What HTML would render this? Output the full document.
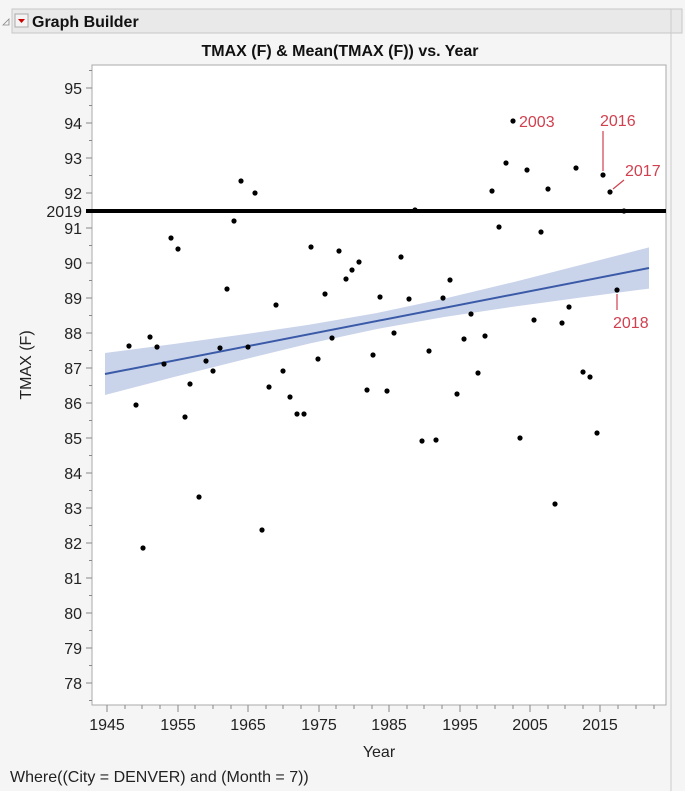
<!DOCTYPE html>
<html><head><meta charset="utf-8"><style>
body{margin:0;width:685px;height:791px;background:#f5f5f5;font-family:"Liberation Sans",sans-serif;overflow:hidden}
</style></head><body>
<svg width="685" height="791" xmlns="http://www.w3.org/2000/svg" style="position:absolute;left:0;top:0">
<rect x="0" y="0" width="685" height="791" fill="#f5f5f5"/>
<rect x="12" y="9" width="670" height="24" fill="#e9e9e9" stroke="#c8c8c8"/>
<path d="M3 25 L9 19 L9 25 Z" fill="none" stroke="#888" stroke-width="0.8"/>
<rect x="15" y="14" width="13" height="13" fill="#f4f4f4" stroke="#aaa"/>
<path d="M18 19 L25 19 L21.5 23 Z" fill="#c00"/>
<text x="32" y="27" font-size="16" font-weight="bold" fill="#111">Graph Builder</text>
<text x="340" y="56" font-size="16" font-weight="bold" text-anchor="middle" fill="#111">TMAX (F) &amp; Mean(TMAX (F)) vs. Year</text>
<rect x="92" y="65" width="574" height="640" fill="#fff" stroke="#aaa"/>
<line x1="671" y1="9" x2="671" y2="791" stroke="#ccc"/>
<!-- y ticks -->
<g stroke="#888">
<line x1="86" y1="88" x2="92" y2="88"/><line x1="86" y1="123" x2="92" y2="123"/><line x1="86" y1="158" x2="92" y2="158"/><line x1="86" y1="193" x2="92" y2="193"/><line x1="86" y1="228" x2="92" y2="228"/><line x1="86" y1="263" x2="92" y2="263"/><line x1="86" y1="298" x2="92" y2="298"/><line x1="86" y1="333" x2="92" y2="333"/><line x1="86" y1="368" x2="92" y2="368"/><line x1="86" y1="403" x2="92" y2="403"/><line x1="86" y1="438" x2="92" y2="438"/><line x1="86" y1="473" x2="92" y2="473"/><line x1="86" y1="508" x2="92" y2="508"/><line x1="86" y1="543" x2="92" y2="543"/><line x1="86" y1="578" x2="92" y2="578"/><line x1="86" y1="613" x2="92" y2="613"/><line x1="86" y1="648" x2="92" y2="648"/><line x1="86" y1="683" x2="92" y2="683"/>
<line x1="89" y1="70.5" x2="92" y2="70.5"/><line x1="89" y1="105.5" x2="92" y2="105.5"/><line x1="89" y1="140.5" x2="92" y2="140.5"/><line x1="89" y1="175.5" x2="92" y2="175.5"/><line x1="89" y1="245.5" x2="92" y2="245.5"/><line x1="89" y1="280.5" x2="92" y2="280.5"/><line x1="89" y1="315.5" x2="92" y2="315.5"/><line x1="89" y1="350.5" x2="92" y2="350.5"/><line x1="89" y1="385.5" x2="92" y2="385.5"/><line x1="89" y1="420.5" x2="92" y2="420.5"/><line x1="89" y1="455.5" x2="92" y2="455.5"/><line x1="89" y1="490.5" x2="92" y2="490.5"/><line x1="89" y1="525.5" x2="92" y2="525.5"/><line x1="89" y1="560.5" x2="92" y2="560.5"/><line x1="89" y1="595.5" x2="92" y2="595.5"/><line x1="89" y1="630.5" x2="92" y2="630.5"/><line x1="89" y1="665.5" x2="92" y2="665.5"/><line x1="89" y1="700.5" x2="92" y2="700.5"/>
</g>
<g font-size="16" fill="#222" text-anchor="end">
<text x="82" y="94">95</text><text x="82" y="129">94</text><text x="82" y="164">93</text><text x="82" y="199">92</text><text x="82" y="234">91</text><text x="82" y="269">90</text><text x="82" y="304">89</text><text x="82" y="339">88</text><text x="82" y="374">87</text><text x="82" y="409">86</text><text x="82" y="444">85</text><text x="82" y="479">84</text><text x="82" y="514">83</text><text x="82" y="549">82</text><text x="82" y="584">81</text><text x="82" y="619">80</text><text x="82" y="654">79</text><text x="82" y="689">78</text>
<text x="82" y="217">2019</text>
</g>
<text transform="translate(31,365) rotate(-90)" font-size="16" fill="#222" text-anchor="middle">TMAX (F)</text>
<!-- x ticks -->
<g stroke="#888">
<line x1="107" y1="705" x2="107" y2="712"/><line x1="178" y1="705" x2="178" y2="712"/><line x1="248" y1="705" x2="248" y2="712"/><line x1="319" y1="705" x2="319" y2="712"/><line x1="389" y1="705" x2="389" y2="712"/><line x1="460" y1="705" x2="460" y2="712"/><line x1="530" y1="705" x2="530" y2="712"/><line x1="600" y1="705" x2="600" y2="712"/>
<line x1="125" y1="705" x2="125" y2="709"/><line x1="142" y1="705" x2="142" y2="709"/><line x1="160" y1="705" x2="160" y2="709"/><line x1="195" y1="705" x2="195" y2="709"/><line x1="213" y1="705" x2="213" y2="709"/><line x1="231" y1="705" x2="231" y2="709"/><line x1="266" y1="705" x2="266" y2="709"/><line x1="283" y1="705" x2="283" y2="709"/><line x1="301" y1="705" x2="301" y2="709"/><line x1="336" y1="705" x2="336" y2="709"/><line x1="354" y1="705" x2="354" y2="709"/><line x1="372" y1="705" x2="372" y2="709"/><line x1="407" y1="705" x2="407" y2="709"/><line x1="424" y1="705" x2="424" y2="709"/><line x1="442" y1="705" x2="442" y2="709"/><line x1="477" y1="705" x2="477" y2="709"/><line x1="495" y1="705" x2="495" y2="709"/><line x1="513" y1="705" x2="513" y2="709"/><line x1="548" y1="705" x2="548" y2="709"/><line x1="565" y1="705" x2="565" y2="709"/><line x1="583" y1="705" x2="583" y2="709"/><line x1="618" y1="705" x2="618" y2="709"/><line x1="636" y1="705" x2="636" y2="709"/><line x1="654" y1="705" x2="654" y2="709"/>
</g>
<g font-size="16" fill="#222" text-anchor="middle">
<text x="107" y="730">1945</text><text x="178" y="730">1955</text><text x="248" y="730">1965</text><text x="319" y="730">1975</text><text x="389" y="730">1985</text><text x="460" y="730">1995</text><text x="530" y="730">2005</text><text x="600" y="730">2015</text>
<text x="379" y="757">Year</text>
</g>
<text x="10" y="782" font-size="16" fill="#222">Where((City = DENVER) and (Month = 7))</text>
<!-- band -->
<polygon fill="#c9d3ea" points="105,353 173,344.1 241,334.8 309,324.8 377,313 445,298.5 513,282.2 581,264.9 649,247.4 649,288.6 581,297.5 513,306.8 445,316.9 377,329 309,343.6 241,360.2 173,377.3 105,395"/>
<line x1="105" y1="374" x2="649" y2="268" stroke="#3a5aa8" stroke-width="2"/>
<line x1="86" y1="211" x2="666" y2="211" stroke="#000" stroke-width="4"/>
<g fill="#000">
<circle cx="129" cy="346" r="2.6"/><circle cx="136" cy="405" r="2.6"/><circle cx="143" cy="548" r="2.6"/><circle cx="150" cy="337" r="2.6"/><circle cx="157" cy="347" r="2.6"/><circle cx="164" cy="364" r="2.6"/><circle cx="171" cy="238" r="2.6"/><circle cx="178" cy="249" r="2.6"/><circle cx="185" cy="417" r="2.6"/><circle cx="190" cy="384" r="2.6"/><circle cx="199" cy="497" r="2.6"/><circle cx="206" cy="361" r="2.6"/><circle cx="213" cy="371" r="2.6"/><circle cx="220" cy="348" r="2.6"/><circle cx="227" cy="289" r="2.6"/><circle cx="234" cy="221" r="2.6"/><circle cx="241" cy="181" r="2.6"/><circle cx="248" cy="347" r="2.6"/><circle cx="255" cy="193" r="2.6"/><circle cx="262" cy="530" r="2.6"/><circle cx="269" cy="387" r="2.6"/><circle cx="276" cy="305" r="2.6"/><circle cx="283" cy="371" r="2.6"/><circle cx="290" cy="397" r="2.6"/><circle cx="297" cy="414" r="2.6"/><circle cx="304" cy="414" r="2.6"/><circle cx="311" cy="247" r="2.6"/><circle cx="318" cy="359" r="2.6"/><circle cx="325" cy="294" r="2.6"/><circle cx="332" cy="338" r="2.6"/><circle cx="339" cy="251" r="2.6"/><circle cx="346" cy="279" r="2.6"/><circle cx="352" cy="270" r="2.6"/><circle cx="359" cy="262" r="2.6"/><circle cx="367" cy="390" r="2.6"/><circle cx="373" cy="355" r="2.6"/><circle cx="380" cy="297" r="2.6"/><circle cx="387" cy="391" r="2.6"/><circle cx="394" cy="333" r="2.6"/><circle cx="401" cy="257" r="2.6"/><circle cx="409" cy="299" r="2.6"/><circle cx="415" cy="210" r="2.6"/><circle cx="422" cy="441" r="2.6"/><circle cx="429" cy="351" r="2.6"/><circle cx="436" cy="440" r="2.6"/><circle cx="443" cy="298" r="2.6"/><circle cx="450" cy="280" r="2.6"/><circle cx="457" cy="394" r="2.6"/><circle cx="464" cy="339" r="2.6"/><circle cx="471" cy="314" r="2.6"/><circle cx="478" cy="373" r="2.6"/><circle cx="485" cy="336" r="2.6"/><circle cx="492" cy="191" r="2.6"/><circle cx="499" cy="227" r="2.6"/><circle cx="506" cy="163" r="2.6"/><circle cx="513" cy="121" r="2.6"/><circle cx="520" cy="438" r="2.6"/><circle cx="527" cy="170" r="2.6"/><circle cx="534" cy="320" r="2.6"/><circle cx="541" cy="232" r="2.6"/><circle cx="548" cy="189" r="2.6"/><circle cx="555" cy="504" r="2.6"/><circle cx="562" cy="323" r="2.6"/><circle cx="569" cy="307" r="2.6"/><circle cx="576" cy="168" r="2.6"/><circle cx="583" cy="372" r="2.6"/><circle cx="590" cy="377" r="2.6"/><circle cx="597" cy="433" r="2.6"/><circle cx="603" cy="175" r="2.6"/><circle cx="610" cy="192" r="2.6"/><circle cx="617" cy="290" r="2.6"/><circle cx="624" cy="211" r="2.6"/>
</g>
<g fill="#d0404f" font-size="16" stroke="none">
<text x="519" y="127">2003</text><text x="600" y="126">2016</text><text x="625" y="176">2017</text><text x="613" y="328">2018</text>
</g>
<g stroke="#d0404f" stroke-width="1.2">
<line x1="603" y1="131" x2="603" y2="171"/><line x1="624" y1="180" x2="613" y2="189"/><line x1="617" y1="294" x2="617" y2="310"/>
</g>
</svg>
</body></html>
